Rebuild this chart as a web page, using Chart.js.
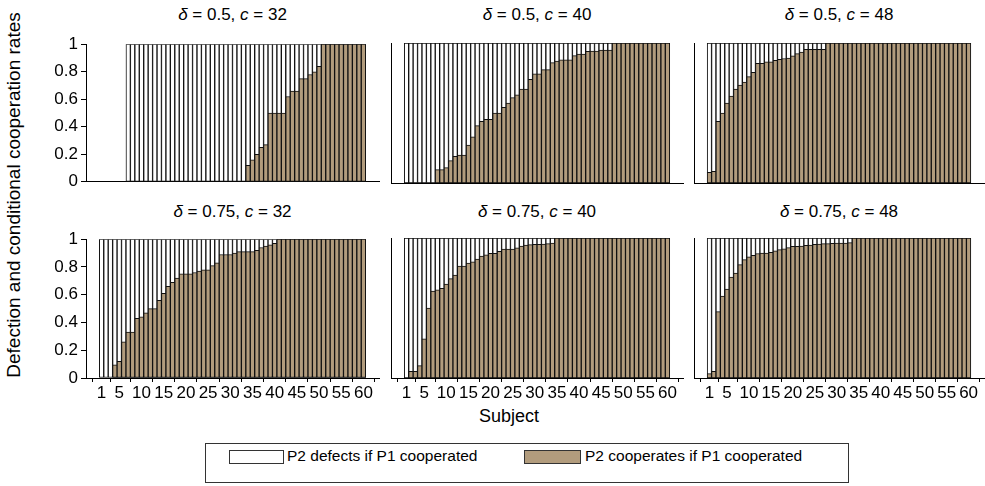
<!DOCTYPE html>
<html>
<head>
<meta charset="utf-8">
<script src="https://cdn.jsdelivr.net/npm/chart.js@4.4.0/dist/chart.umd.min.js"></script>
<style>
  body { margin: 0; background: #fff; width: 985px; height: 486px; position: relative; overflow: hidden;
         font-family: "Liberation Sans", Arial, sans-serif; color: #000; }
  .panel { position: absolute; }
  .ttl { position: absolute; font-size: 17px; line-height: 20px; white-space: pre; transform: translateX(-50%); }
  #ytitle { position: absolute; left: 14px; top: 195px; font-size: 19px; white-space: nowrap;
            transform: translate(-50%, -50%) rotate(-90deg); }
  #xtitle { position: absolute; left: 509px; top: 416px; font-size: 18px; transform: translate(-50%, -50%); }
  #legend { position: absolute; left: 205px; top: 443px; width: 642px; height: 38px; border: 1px solid #333; }
  .sw { position: absolute; top: 6px; height: 12px; border: 1px solid #333; }
  .lt { position: absolute; top: 3px; font-size: 15.5px; line-height: 18px; white-space: nowrap; }
</style>
</head>
<body>
<div id="ytitle">Defection and conditional cooperation rates</div>
<div id="xtitle">Subject</div>
<div id="legend">
  <div class="sw" style="left:23px;width:53px;background:#fff"></div>
  <div class="lt" style="left:81px">P2 defects if P1 cooperated</div>
  <div class="sw" style="left:318px;width:55px;background:#b29c7d"></div>
  <div class="lt" style="left:379px">P2 cooperates if P1 cooperated</div>
</div>
<script>
const subjects = [1, 2, 3, 4, 5, 6, 7, 8, 9, 10, 11, 12, 13, 14, 15, 16, 17, 18, 19, 20,
  21, 22, 23, 24, 25, 26, 27, 28, 29, 30, 31, 32, 33, 34, 35, 36, 37, 38, 39, 40,
  41, 42, 43, 44, 45, 46, 47, 48, 49, 50, 51, 52, 53, 54, 55, 56, 57, 58, 59, 60];
const xTicks = [1, 5, 10, 15, 20, 25, 30, 35, 40, 45, 50, 55, 60];
const yTicks = [0, 0.2, 0.4, 0.6, 0.8, 1];
const deltas = ["0.5", "0.5", "0.5", "0.75", "0.75", "0.75"];
const costs = ["32", "40", "48", "32", "40", "48"];

// conditional cooperation rate per subject (null = subject not in this treatment)
const coop_05_32 = [null, null, null, null, null, null, 0, 0, 0, 0,
  0, 0, 0, 0, 0, 0, 0, 0, 0, 0,
  0, 0, 0, 0, 0, 0, 0, 0, 0, 0,
  0, 0, 0, 0.12, 0.16, 0.2, 0.25, 0.27, 0.5, 0.5,
  0.5, 0.5, 0.62, 0.66, 0.66, 0.75, 0.75, 0.78, 0.8, 0.84,
  1, 1, 1, 1, 1, 1, 1, 1, 1, 1];
const coop_05_40 = [0, 0, 0, 0, 0, 0, 0, 0.095, 0.095, 0.11,
  0.16, 0.19, 0.2, 0.2, 0.27, 0.33, 0.41, 0.44, 0.455, 0.455,
  0.5, 0.5, 0.54, 0.57, 0.61, 0.63, 0.67, 0.67, 0.74, 0.78,
  0.78, 0.81, 0.81, 0.86, 0.87, 0.88, 0.88, 0.88, 0.91, 0.92,
  0.92, 0.94, 0.943, 0.943, 0.95, 0.95, 0.95, 1, 1, 1,
  1, 1, 1, 1, 1, 1, 1, 1, 1, 1];
const coop_05_48 = [0.076, 0.083, 0.44, 0.5, 0.57, 0.62, 0.67, 0.7, 0.72, 0.76,
  0.79, 0.855, 0.855, 0.865, 0.865, 0.877, 0.884, 0.889, 0.893, 0.908,
  0.924, 0.936, 0.955, 0.955, 0.955, 0.955, 0.955, 1, 1, 1,
  1, 1, 1, 1, 1, 1, 1, 1, 1, 1,
  1, 1, 1, 1, 1, 1, 1, 1, 1, 1,
  1, 1, 1, 1, 1, 1, 1, 1, 1, 1];
const coop_075_32 = [0, 0, 0, 0.095, 0.12, 0.26, 0.33, 0.33, 0.43, 0.44,
  0.47, 0.5, 0.5, 0.56, 0.61, 0.66, 0.69, 0.72, 0.75, 0.75,
  0.75, 0.76, 0.77, 0.78, 0.78, 0.81, 0.83, 0.89, 0.89, 0.89,
  0.9, 0.91, 0.91, 0.91, 0.91, 0.92, 0.94, 0.95, 0.96, 0.97,
  1, 1, 1, 1, 1, 1, 1, 1, 1, 1,
  1, 1, 1, 1, 1, 1, 1, 1, 1, 1];
const coop_075_40 = [0, 0.047, 0.047, 0.088, 0.28, 0.5, 0.62, 0.63, 0.64, 0.67,
  0.71, 0.735, 0.8, 0.8, 0.82, 0.83, 0.85, 0.87, 0.88, 0.89,
  0.89, 0.905, 0.92, 0.92, 0.92, 0.93, 0.943, 0.95, 0.953, 0.955,
  0.955, 0.957, 0.96, 0.964, 1, 1, 1, 1, 1, 1,
  1, 1, 1, 1, 1, 1, 1, 1, 1, 1,
  1, 1, 1, 1, 1, 1, 1, 1, 1, 1];
const coop_075_48 = [0.031, 0.047, 0.474, 0.585, 0.635, 0.72, 0.75, 0.81, 0.846, 0.865,
  0.877, 0.889, 0.893, 0.893, 0.898, 0.908, 0.917, 0.922, 0.931, 0.941,
  0.941, 0.943, 0.948, 0.95, 0.955, 0.957, 0.96, 0.96, 0.962, 0.964,
  0.964, 0.964, 0.967, 1, 1, 1, 1, 1, 1, 1,
  1, 1, 1, 1, 1, 1, 1, 1, 1, 1,
  1, 1, 1, 1, 1, 1, 1, 1, 1, 1];

const panels = [coop_05_32, coop_05_40, coop_05_48, coop_075_32, coop_075_40, coop_075_48];

Chart.defaults.font.family = '"Liberation Sans", Arial, sans-serif';
Chart.defaults.font.size = 17;
Chart.defaults.color = "#000";

let brown = "#b29c7d";
let edge = "#111";

// chart area edges of each panel, in page pixels
const cols = [{left: 86, right: 379}, {left: 391, right: 683}, {left: 694, right: 984}];
const rows = [{top: 43, bottom: 183, title: 5}, {top: 238, bottom: 378, title: 202}];

function makePanel(i, coop) {
    let col = cols[i % 3], row = rows[Math.floor(i / 3)];
    let bottomRow = i >= 3, leftCol = i % 3 === 0;
    let axisW = leftCol ? col.left : 6;
    let padTop = 12, padBottom = bottomRow ? 30 : 12;

    let div = document.createElement("div");
    div.className = "panel";
    div.style.left = (col.left - axisW) + "px";
    div.style.top = (row.top - padTop) + "px";
    div.style.width = (col.right - col.left + axisW + 1) + "px";
    div.style.height = (row.bottom - row.top + padTop + padBottom) + "px";
    let canvas = document.createElement("canvas");
    div.appendChild(canvas);
    document.body.appendChild(div);

    let ttl = document.createElement("div");
    ttl.className = "ttl";
    ttl.style.left = ((col.left + col.right) / 2) + "px";
    ttl.style.top = row.title + "px";
    ttl.innerHTML = "<i>δ</i> = " + deltas[i] + ", <i>c</i> = " + costs[i];
    document.body.appendChild(ttl);

    let coopPts = [], defPts = [];
    subjects.forEach((s, k) => {
        if (coop[k] === null) return;
        coopPts.push({x: s, y: coop[k]});
        defPts.push({x: s, y: 1});
    });

    new Chart(canvas, {
        type: "bar",
        data: {
            datasets: [
                {
                    label: "P2 cooperates if P1 cooperated",
                    data: coopPts,
                    backgroundColor: brown,
                    borderColor: edge,
                    borderWidth: 1,
                    borderSkipped: false,
                    grouped: false,
                    barPercentage: 1,
                    categoryPercentage: 1,
                    order: 0
                },
                {
                    label: "P2 defects if P1 cooperated",
                    data: defPts,
                    backgroundColor: "#fff",
                    borderColor: edge,
                    borderWidth: 1,
                    borderSkipped: false,
                    grouped: false,
                    barPercentage: 1,
                    categoryPercentage: 1,
                    order: 1
                }
            ]
        },
        options: {
            responsive: true,
            maintainAspectRatio: false,
            animation: false,
            layout: {padding: {top: padTop, right: 1, bottom: bottomRow ? 0 : padBottom, left: 0}},
            plugins: {legend: {display: false}, tooltip: {enabled: false}},
            scales: {
                x: {
                    type: "linear",
                    min: -2.5,
                    max: 63.5,
                    offset: false,
                    afterFit: s => { s.height = bottomRow ? padBottom : 0; },
                    afterBuildTicks: s => { s.ticks = xTicks.map(v => ({value: v})); },
                    ticks: {display: bottomRow, autoSkip: false, maxRotation: 0, padding: 1},
                    grid: {display: bottomRow, drawOnChartArea: false, tickLength: 4, color: "#000"},
                    border: {display: true, color: "#000", width: 1}
                },
                y: {
                    min: 0,
                    max: 1,
                    afterFit: s => { s.width = axisW; },
                    afterBuildTicks: s => { s.ticks = yTicks.map(v => ({value: v})); },
                    ticks: {display: leftCol, padding: 3, callback: v => String(v)},
                    grid: {display: leftCol, drawOnChartArea: false, tickLength: 5, color: "#000"},
                    border: {display: true, color: "#000", width: 1}
                }
            }
        }
    });
}

panels.forEach((coop, i) => makePanel(i, coop));
</script>
</body>
</html>
